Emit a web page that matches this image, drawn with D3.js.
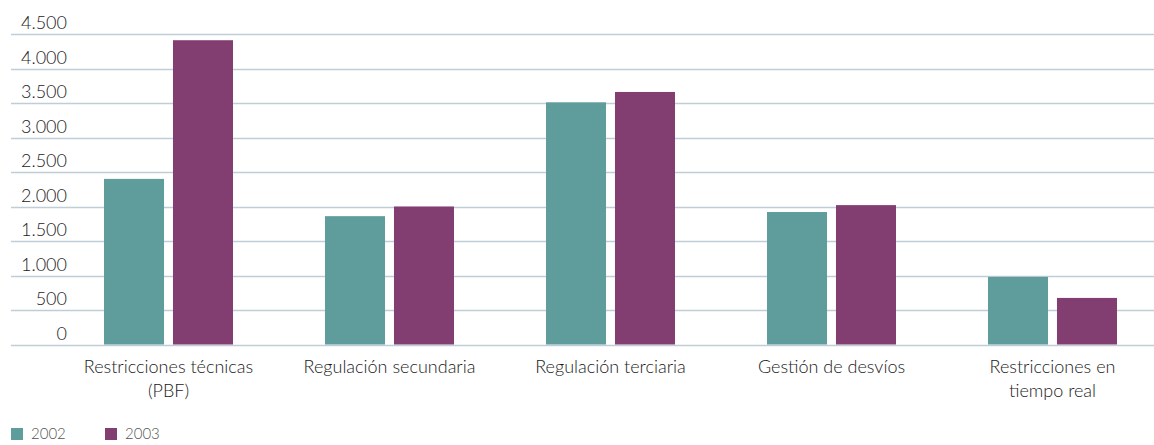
<!DOCTYPE html>
<html>
<head>
<meta charset="utf-8">
<script src="https://cdn.jsdelivr.net/npm/d3@7"></script>
<style>
  body { margin: 0; background: #fff; }
  text { font-family: "Lato", "Open Sans", sans-serif; font-weight: 300; fill: #1a1a1a; }
</style>
</head>
<body>
<div id="chart"></div>
<script>
const categories = [
  ["Restricciones técnicas", "(PBF)"],
  ["Regulación secundaria"],
  ["Regulación terciaria"],
  ["Gestión de desvíos"],
  ["Restricciones en", "tiempo real"]
];
const years = ["2002", "2003"];
const values2002 = [2400, 1860, 3510, 1920, 980];
const values2003 = [4410, 2000, 3660, 2020, 675];
const yTicks = [0, 500, 1000, 1500, 2000, 2500, 3000, 3500, 4000, 4500];
const colors = ["#5f9d9d", "#823e70"];

const width = 1154, height = 445;
const svg = d3.select("#chart").append("svg")
  .attr("width", width)
  .attr("height", height);

const y = d3.scaleLinear().domain([0, 4500]).range([344.5, 34]);
const x = d3.scaleBand().domain(d3.range(categories.length)).range([58, 1163]);
const xs = d3.scaleBand().domain(years).range([x.bandwidth() / 2 - 64.5, x.bandwidth() / 2 + 64.5]).paddingInner(0.13);

// gridlines
svg.append("g").selectAll("line")
  .data(yTicks)
  .enter().append("line")
  .attr("x1", 11).attr("x2", width)
  .attr("y1", d => Math.round(y(d)) + 0.5)
  .attr("y2", d => Math.round(y(d)) + 0.5)
  .style("stroke", "#bfcdd6")
  .style("stroke-width", "1.5px");

// y labels
svg.append("g").selectAll("text")
  .data(yTicks)
  .enter().append("text")
  .attr("x", 67)
  .attr("y", d => y(d) - 5)
  .attr("text-anchor", "end")
  .attr("font-size", "18px")
  .text(d => d3.format(",")(d).replace(/,/g, "."));

// bars
const series = [values2002, values2003];
const groups = svg.append("g").selectAll("g")
  .data(categories)
  .enter().append("g")
  .attr("transform", (d, i) => `translate(${x(i)},0)`);

groups.selectAll("rect")
  .data((d, i) => years.map((yr, k) => ({ yr, v: series[k][i], k })))
  .enter().append("rect")
  .attr("x", d => xs(d.yr))
  .attr("width", xs.bandwidth())
  .attr("y", d => y(d.v))
  .attr("height", d => y(0) - y(d.v))
  .style("fill", d => colors[d.k]);

// category labels
groups.append("text")
  .attr("text-anchor", "middle")
  .attr("font-size", "18px")
  .selectAll("tspan")
  .data(d => d)
  .enter().append("tspan")
  .attr("x", x.bandwidth() / 2)
  .attr("y", (d, i) => 373 + i * 24)
  .text(d => d);

// legend
const legend = svg.append("g").selectAll("g")
  .data(years)
  .enter().append("g")
  .attr("transform", (d, i) => `translate(${11 + i * 94},428)`);

legend.append("rect")
  .attr("width", 12).attr("height", 12)
  .style("fill", (d, i) => colors[i]);

legend.append("text")
  .attr("x", 20).attr("y", 11)
  .attr("font-size", "15px")
  .style("fill", "#555")
  .text(d => d);
</script>
</body>
</html>
